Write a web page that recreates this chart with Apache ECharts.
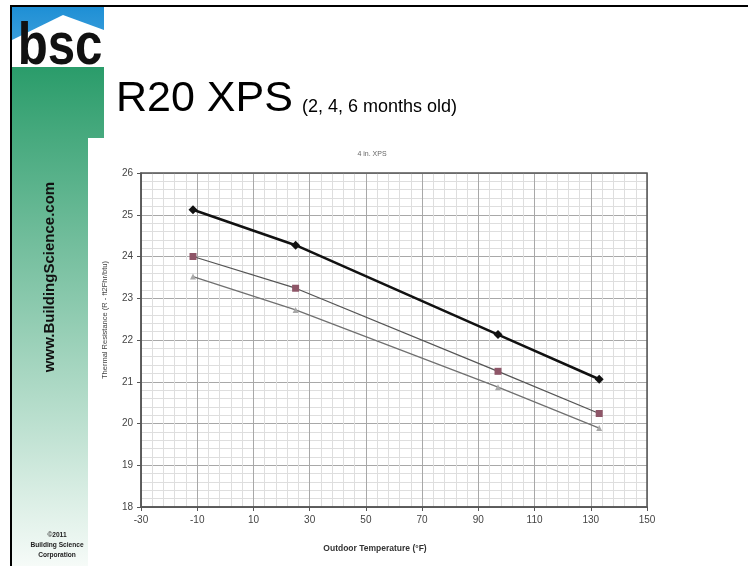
<!DOCTYPE html>
<html>
<head>
<meta charset="utf-8">
<script src="https://cdn.jsdelivr.net/npm/echarts@6/dist/echarts.min.js"></script>
<style>
  html, body { margin: 0; padding: 0; background: #ffffff; }
  #chart { width: 748px; height: 566px; }
</style>
</head>
<body>
<div id="chart"></div>
<script>
// ---- data ----
const temperaturesF = [-11.5, 25, 97, 133];
const months2 = [25.12, 24.27, 22.13, 21.06];
const months4 = [24.0, 23.24, 21.25, 20.24];
const months6 = [23.52, 22.72, 20.87, 19.89];
const seriesNames = ['2 months', '4 months', '6 months'];
const slideTitle = 'R20 XPS';
const slideSubtitle = '(2, 4, 6 months old)';
const chartTitle = '4 in. XPS';
const xAxisTitle = 'Outdoor Temperature (°F)';
const yAxisTitle = 'Thermal Resistance (R - ft2Fhr/btu)';
const siteText = 'www.BuildingScience.com';
const copyrightLines = ['©2011', 'Building Science', 'Corporation'];
const logoText = 'bsc';

function pairs(ys) { return temperaturesF.map((x, i) => [x, ys[i]]); }

const chart = echarts.init(document.getElementById('chart'), null, { renderer: 'canvas' });

const font = 'Liberation Sans, Arial, Helvetica, sans-serif';

const option = {
  backgroundColor: '#ffffff',
  animation: false,
  graphic: [
    // sidebar green gradient
    { type: 'rect', z: -10, shape: { x: 12, y: 66, width: 92, height: 500 },
      style: { fill: new echarts.graphic.LinearGradient(0, 0, 0, 1, [
        { offset: 0, color: '#2a9c6a' }, { offset: 1, color: '#f6fbf8' }]) } },
    // logo blue sky
    { type: 'rect', z: -10, shape: { x: 12, y: 7, width: 92, height: 60 },
      style: { fill: new echarts.graphic.LinearGradient(0, 0, 0, 1, [
        { offset: 0, color: '#1e8fd5' }, { offset: 1, color: '#4fa9e0' }]) } },
    // house shape
    { type: 'polygon', z: -9, shape: { points: [[12, 40], [63, 15], [104, 30], [104, 67], [12, 67]] },
      style: { fill: '#ffffff' } },
    // logo text
    { type: 'text', z: -8, x: 15, y: 77, scaleX: 0.82, originX: 15, originY: 77,
      style: { text: logoText, font: 'bold 60px ' + font, fill: '#111111',
        textAlign: 'left', textVerticalAlign: 'bottom' } },
    // white chart area
    { type: 'rect', z: -9, shape: { x: 88, y: 138, width: 660, height: 428 },
      style: { fill: '#ffffff' } },
    // frame lines
    { type: 'rect', z: 3, shape: { x: 10, y: 5, width: 738, height: 2 }, style: { fill: '#000000' } },
    { type: 'rect', z: 3, shape: { x: 10, y: 5, width: 2, height: 561 }, style: { fill: '#000000' } },
    // sidebar text
    { type: 'text', z: 3, x: 50, y: 277, rotation: Math.PI / 2,
      style: { text: siteText, font: 'bold 15px ' + font, fill: '#111111',
        textAlign: 'center', textVerticalAlign: 'middle' } },
    { type: 'text', z: 3, x: 57, y: 535,
      style: { text: copyrightLines[0], font: 'bold 6.6px ' + font, fill: '#222222', textAlign: 'center', textVerticalAlign: 'middle' } },
    { type: 'text', z: 3, x: 57, y: 545,
      style: { text: copyrightLines[1], font: 'bold 6.6px ' + font, fill: '#222222', textAlign: 'center', textVerticalAlign: 'middle' } },
    { type: 'text', z: 3, x: 57, y: 555,
      style: { text: copyrightLines[2], font: 'bold 6.6px ' + font, fill: '#222222', textAlign: 'center', textVerticalAlign: 'middle' } },
    // slide title
    { type: 'text', z: 3, x: 116, y: 121,
      style: { text: slideTitle, font: '43px ' + font, fill: '#000000', textAlign: 'left', textVerticalAlign: 'bottom' } },
    { type: 'text', z: 3, x: 302, y: 116,
      style: { text: slideSubtitle, font: '18px ' + font, fill: '#000000', textAlign: 'left', textVerticalAlign: 'bottom' } },
    // chart title
    { type: 'text', z: 3, x: 372, y: 154,
      style: { text: chartTitle, font: '7px ' + font, fill: '#666666', textAlign: 'center', textVerticalAlign: 'middle' } },
    // axis titles
    { type: 'text', z: 3, x: 105, y: 320, rotation: Math.PI / 2,
      style: { text: yAxisTitle, font: '7.5px ' + font, fill: '#444444', textAlign: 'center', textVerticalAlign: 'middle' } },
    { type: 'text', z: 3, x: 375, y: 549,
      style: { text: xAxisTitle, font: 'bold 8.5px ' + font, fill: '#333333', textAlign: 'center', textVerticalAlign: 'middle' } }
  ],
  grid: { left: 141, top: 173, width: 506, height: 334, show: true,
    borderColor: '#555555', borderWidth: 1.5, backgroundColor: 'transparent', z: 5 },
  xAxis: {
    type: 'value', min: -30, max: 150, interval: 20, z: 4,
    axisLine: { show: true, onZero: false, lineStyle: { color: '#555555', width: 1.5 } },
    axisTick: { show: true, length: 4, lineStyle: { color: '#555555' } },
    axisLabel: { color: '#444444', fontSize: 10, fontFamily: font, margin: 8 },
    splitLine: { show: true, lineStyle: { color: '#a8a8a8', width: 1 } },
    minorTick: { show: false, splitNumber: 5 },
    minorSplitLine: { show: true, lineStyle: { color: '#dedede', width: 1 } }
  },
  yAxis: {
    type: 'value', min: 18, max: 26, interval: 1, z: 4,
    axisLine: { show: true, onZero: false, lineStyle: { color: '#555555', width: 1.5 } },
    axisTick: { show: true, length: 4, lineStyle: { color: '#555555' } },
    axisLabel: { color: '#444444', fontSize: 10, fontFamily: font, margin: 8 },
    splitLine: { show: true, lineStyle: { color: '#a8a8a8', width: 1 } },
    minorTick: { show: false, splitNumber: 5 },
    minorSplitLine: { show: true, lineStyle: { color: '#dedede', width: 1 } }
  },
  series: [
    { name: seriesNames[0], type: 'line', data: pairs(months2), z: 10,
      symbol: 'diamond', symbolSize: 9,
      lineStyle: { color: '#111111', width: 2.5 },
      itemStyle: { color: '#111111' } },
    { name: seriesNames[1], type: 'line', data: pairs(months4), z: 9,
      symbol: 'rect', symbolSize: 7,
      lineStyle: { color: '#555555', width: 1.3 },
      itemStyle: { color: '#8e5668' } },
    { name: seriesNames[2], type: 'line', data: pairs(months6), z: 8,
      symbol: 'triangle', symbolSize: 6,
      lineStyle: { color: '#707070', width: 1.3 },
      itemStyle: { color: '#a8a8a8' } }
  ]
};
chart.setOption(option);
</script>
</body>
</html>
